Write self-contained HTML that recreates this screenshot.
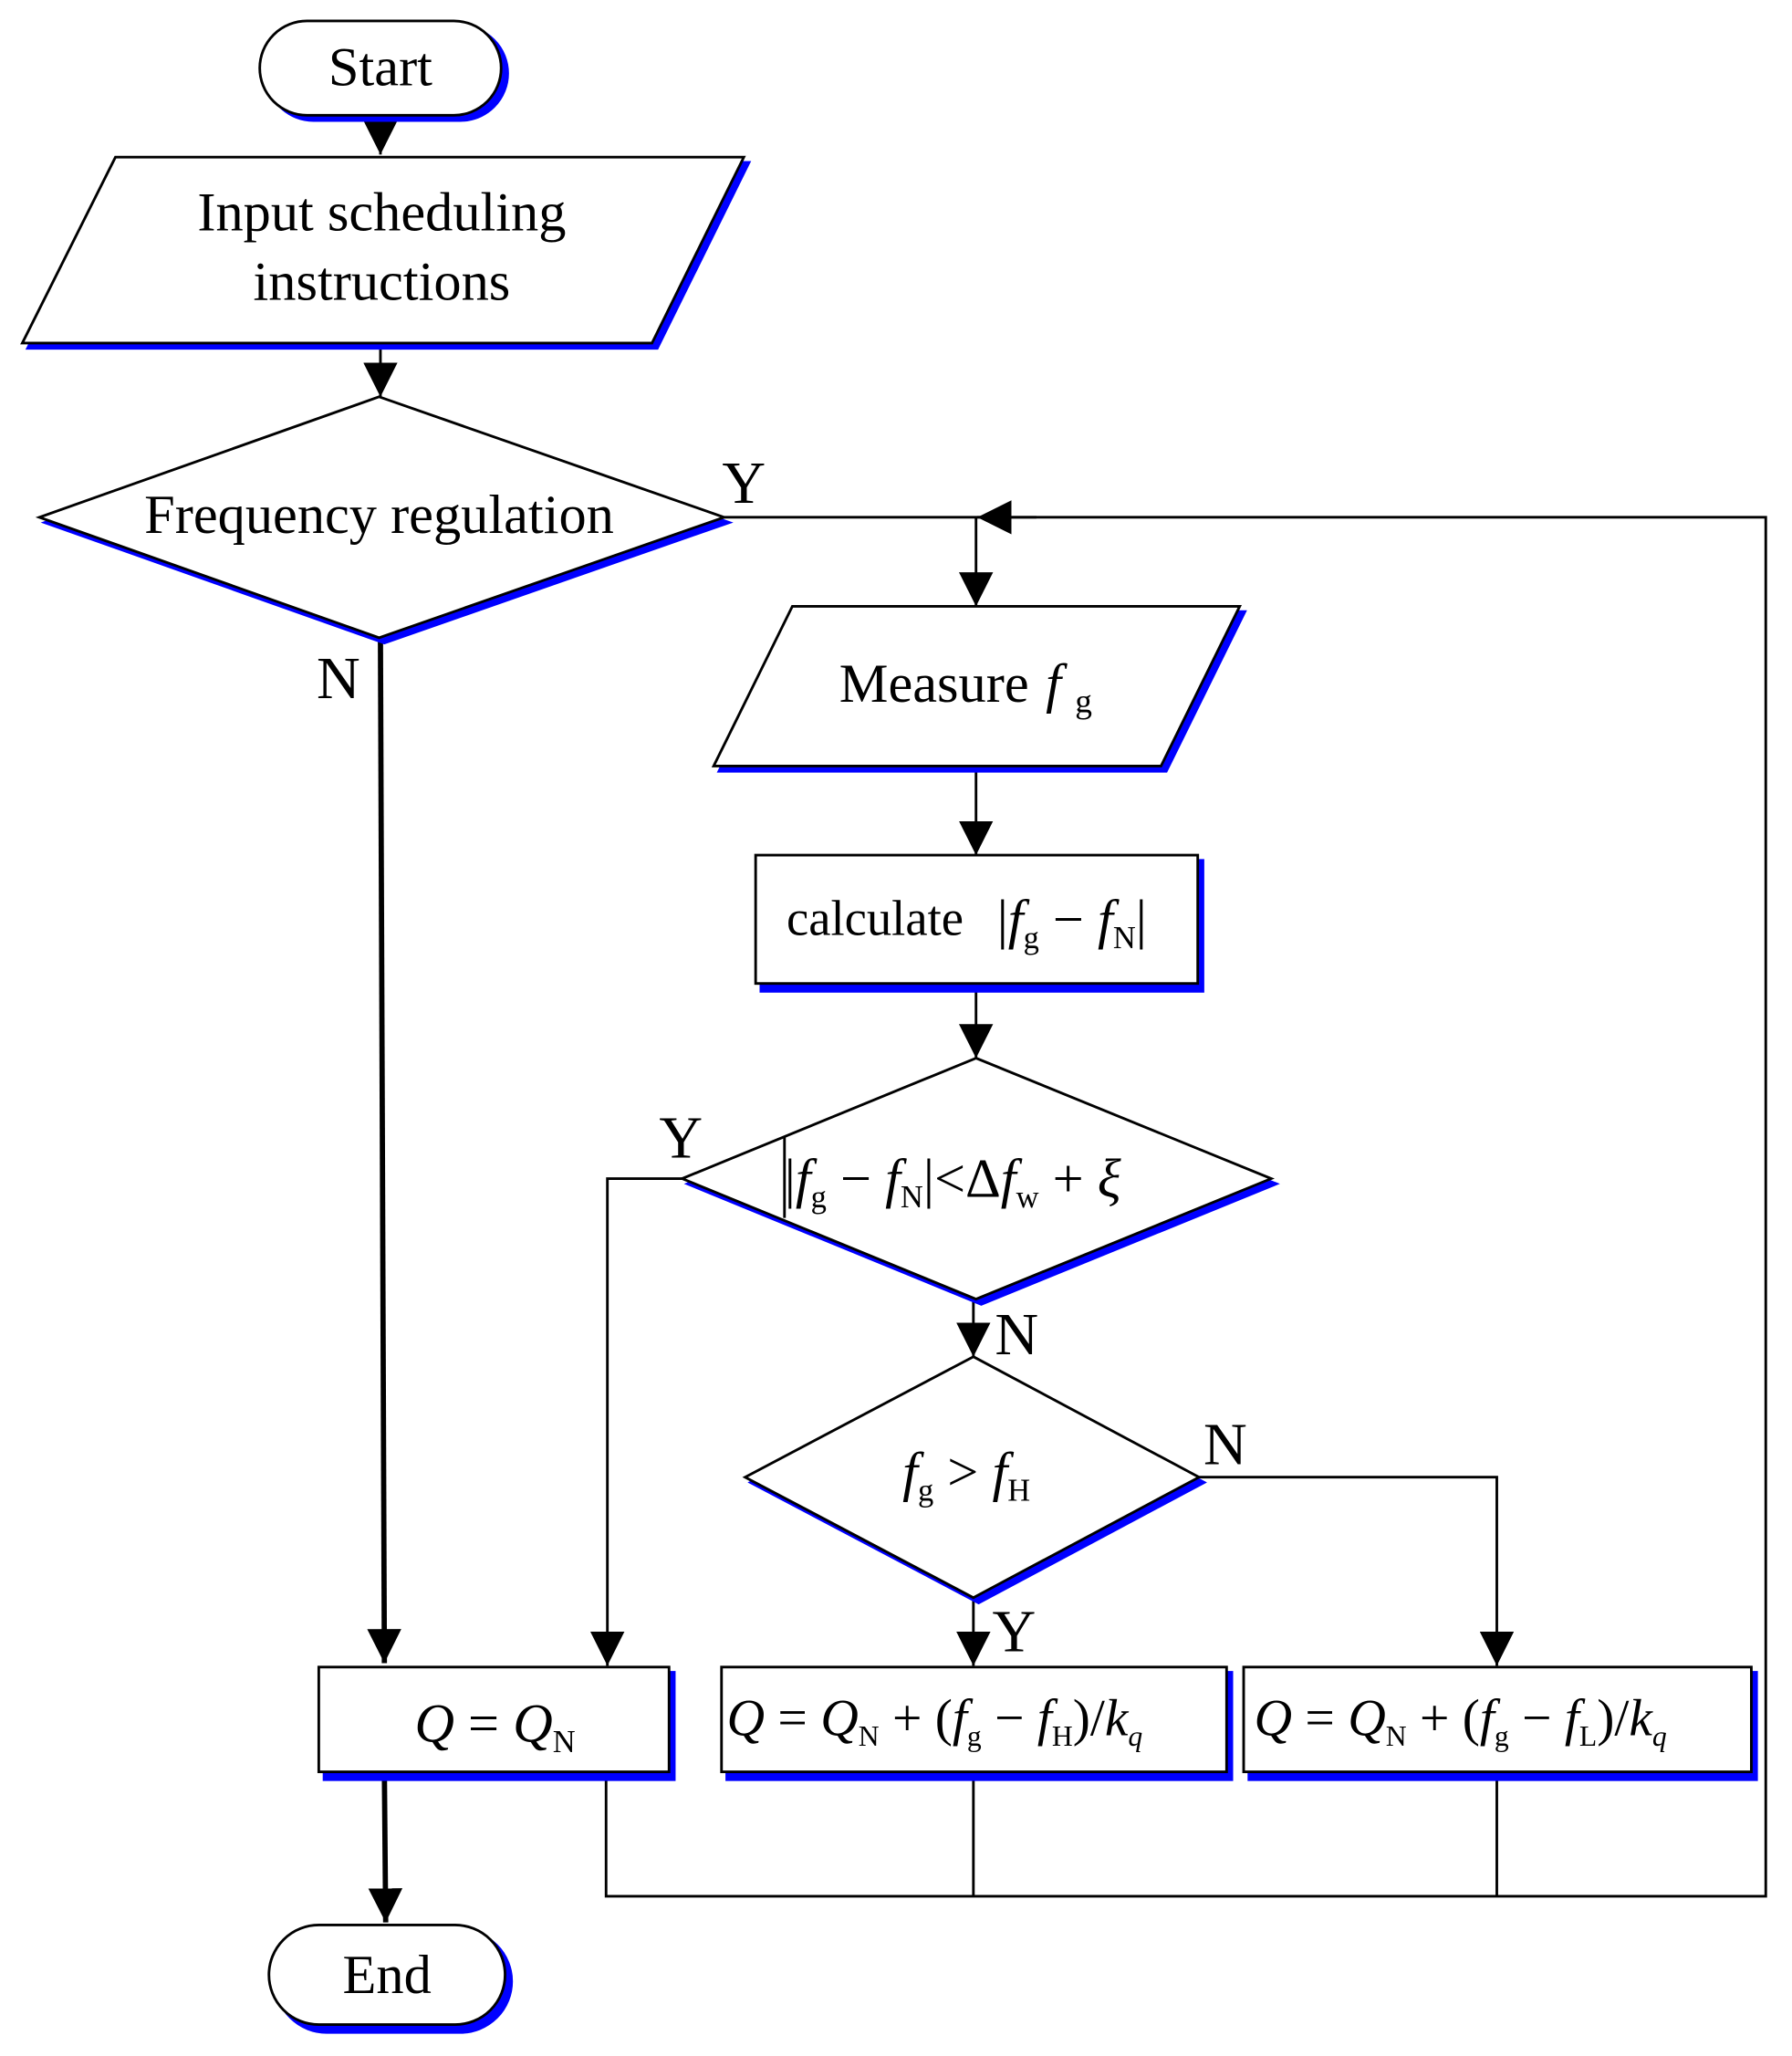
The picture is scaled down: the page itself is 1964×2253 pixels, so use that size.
<!DOCTYPE html>
<html><head><meta charset="utf-8"><style>html,body{margin:0;padding:0;background:#fff}svg{display:block}</style></head>
<body>
<svg width="1964" height="2253" viewBox="0 0 1366 1570" preserveAspectRatio="none" xmlns="http://www.w3.org/2000/svg" font-family="Liberation Serif, serif">
<defs>
<marker id="b" markerWidth="26" markerHeight="26" refX="26" refY="13" orient="auto" markerUnits="userSpaceOnUse" viewBox="0 0 26 26"><path d="M0,0 L26,13 L0,26z" fill="#000"/></marker></defs>
<g stroke="#000" stroke-width="2" fill="none">
<line x1="290" y1="88" x2="290" y2="118" marker-end="url(#b)"/>
<line x1="290" y1="262" x2="290" y2="303" marker-end="url(#b)"/>
<polyline points="552,395 1346,395 1346,1448 462,1448 462,1355"/>
<line x1="790" y1="395" x2="745" y2="395" marker-end="url(#b)"/>
<line x1="744" y1="395" x2="744" y2="463" marker-end="url(#b)"/>
<line x1="290" y1="487" x2="293" y2="1270" stroke-width="4" marker-end="url(#b)"/>
<line x1="744" y1="585" x2="744" y2="653" marker-end="url(#b)"/>
<line x1="744" y1="751" x2="744" y2="808" marker-end="url(#b)"/>
<polyline points="520,900 463,900 463,1272" marker-end="url(#b)"/>
<line x1="742" y1="992" x2="742" y2="1036" marker-end="url(#b)"/>
<polyline points="914,1128 1141,1128 1141,1272" marker-end="url(#b)"/>
<line x1="742" y1="1220" x2="742" y2="1272" marker-end="url(#b)"/>
<line x1="742" y1="1355" x2="742" y2="1448"/>
<line x1="1141" y1="1355" x2="1141" y2="1448"/>
<line x1="293" y1="1353" x2="294" y2="1468" stroke-width="4" marker-end="url(#b)"/>
</g>
<g fill="#0000ff" stroke="#0000ff" stroke-width="2">
<rect x="203" y="20" width="184" height="72" rx="36"/>
<polygon points="92,124 571,124 501,266 21,266"/>
<polygon points="293,307 556,399 293,491 34,399"/>
<polygon points="608,467 949,467 889,589 548,589"/>
<rect x="580" y="657" width="337" height="100"/>
<polygon points="748,812 973,904 748,996 524,904"/>
<polygon points="746,1040 918,1132 746,1224 572,1132"/>
<rect x="247" y="1277" width="267" height="82"/>
<rect x="554" y="1277" width="385" height="82"/>
<rect x="952" y="1277" width="387" height="82"/>
<rect x="210" y="1474" width="180" height="78" rx="39"/>
</g>
<g fill="#fff" stroke="#000" stroke-width="2">
<rect x="198" y="16" width="184" height="72" rx="36"/>
<polygon points="88,120 567,120 497,262 17,262"/>
<polygon points="289,303 552,395 289,487 30,395"/>
<polygon points="604,463 945,463 885,585 544,585"/>
<rect x="576" y="653" width="337" height="98"/>
<polygon points="744,808 969,900 744,992 520,900"/>
<polygon points="742,1036 914,1128 742,1220 568,1128"/>
<rect x="243" y="1273" width="267" height="80"/>
<rect x="550" y="1273" width="385" height="80"/>
<rect x="948" y="1273" width="387" height="80"/>
<rect x="205" y="1470" width="180" height="76" rx="38"/>
</g>
<g font-size="42" text-anchor="middle" fill="#000">
<text x="290" y="65">Start</text>
<text x="291" y="176">Input scheduling</text>
<text x="291" y="229">instructions</text>
<text x="289" y="407">Frequency regulation</text>
<text x="295" y="1522">End</text>
<text x="567" y="384" font-size="46">Y</text>
<text x="258" y="533" font-size="46">N</text>
<text x="519" y="884" font-size="46">Y</text>
<text x="775" y="1034" font-size="46">N</text>
<text x="934" y="1118" font-size="46">N</text>
<text x="773" y="1261" font-size="46">Y</text>
<text x="712" y="536">Measure</text>
<text x="803" y="536" font-style="italic">f</text>
<text x="826" y="544" font-size="26">g</text>
<text x="667" y="714" font-size="38">calculate</text>
</g>
<g fill="#000" font-size="42" font-style="italic">
<text x="760" y="716"><tspan font-style="normal">|</tspan>f<tspan font-size="24" font-style="normal" dy="8">g</tspan><tspan dy="-8" font-style="normal"> − </tspan>f<tspan font-size="24" font-style="normal" dy="8">N</tspan><tspan dy="-8" font-style="normal">|</tspan></text>
<text x="598" y="914"><tspan font-style="normal">|</tspan>f<tspan font-size="24" font-style="normal" dy="8">g</tspan><tspan dy="-8" font-style="normal"> − </tspan>f<tspan font-size="24" font-style="normal" dy="8">N</tspan><tspan dy="-8" font-style="normal">|&lt;Δ</tspan>f<tspan font-size="24" font-style="normal" dy="8">w</tspan><tspan dy="-8" font-style="normal"> + </tspan>ξ</text>
<text x="688" y="1138">f<tspan font-size="24" font-style="normal" dy="8">g</tspan><tspan dy="-8" font-style="normal"> &gt; </tspan>f<tspan font-size="24" font-style="normal" dy="8">H</tspan></text>
<text x="316" y="1330">Q<tspan font-style="normal"> = </tspan>Q<tspan font-size="24" font-style="normal" dy="8">N</tspan></text>
<text x="554" y="1325" font-size="40">Q<tspan font-style="normal"> = </tspan>Q<tspan font-size="22" font-style="normal" dy="8">N</tspan><tspan dy="-8" font-style="normal"> + (</tspan>f<tspan font-size="22" font-style="normal" dy="8">g</tspan><tspan dy="-8" font-style="normal"> − </tspan>f<tspan font-size="22" font-style="normal" dy="8">H</tspan><tspan dy="-8" font-style="normal">)/</tspan>k<tspan font-size="22" dy="8">q</tspan></text>
<text x="956" y="1325" font-size="40">Q<tspan font-style="normal"> = </tspan>Q<tspan font-size="22" font-style="normal" dy="8">N</tspan><tspan dy="-8" font-style="normal"> + (</tspan>f<tspan font-size="22" font-style="normal" dy="8">g</tspan><tspan dy="-8" font-style="normal"> − </tspan>f<tspan font-size="22" font-style="normal" dy="8">L</tspan><tspan dy="-8" font-style="normal">)/</tspan>k<tspan font-size="22" dy="8">q</tspan></text>
</g>
<line x1="598" y1="868" x2="598" y2="930" stroke="#000" stroke-width="2"/>
</svg>
</body></html>
